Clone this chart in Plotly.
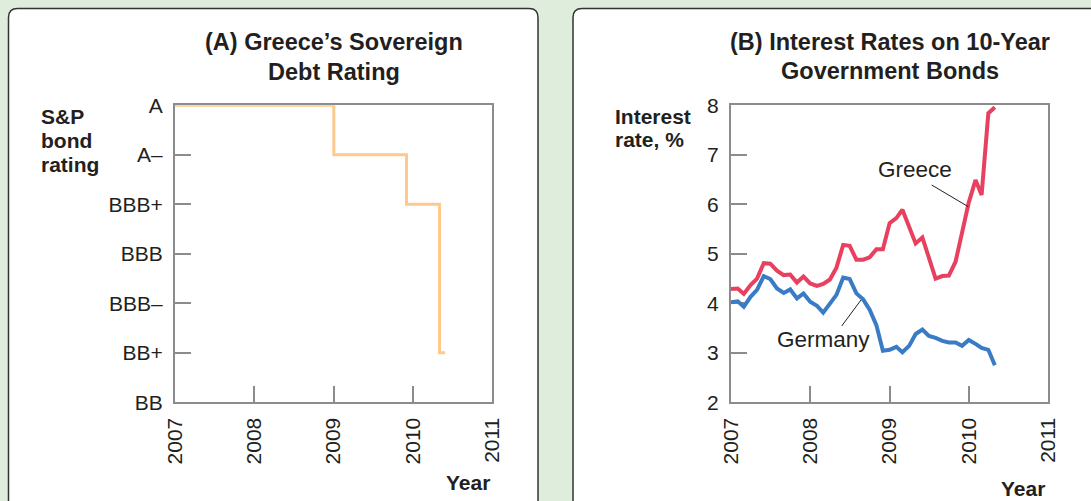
import pandas as pd
import plotly.graph_objects as go

# ---- data -------------------------------------------------------------
rating_labels = ["BB", "BB+", "BBB–", "BBB", "BBB+", "A–", "A"]
rating_dates = ["2007-01-01", "2009-01-02", "2009-12-03", "2010-05-04", "2010-05-30"]
rating_levels = ["A", "A–", "BBB+", "BB+", "BB+"]

bond_months = pd.date_range("2007-01-01", "2010-05-01", freq="MS")
greece_rate = [4.29, 4.30, 4.19, 4.37, 4.50, 4.81, 4.80, 4.66, 4.57, 4.58, 4.42, 4.54,
               4.40, 4.35, 4.39, 4.48, 4.72, 5.18, 5.16, 4.88, 4.88, 4.93, 5.09, 5.09,
               5.62, 5.72, 5.89, 5.52, 5.21, 5.33, 4.91, 4.50, 4.55, 4.56, 4.84, 5.45,
               6.04, 6.49, 6.19, 7.84, 7.96]
germany_rate = [4.02, 4.04, 3.93, 4.13, 4.27, 4.55, 4.49, 4.30, 4.21, 4.28, 4.10, 4.20,
                4.03, 3.95, 3.81, 4.01, 4.17, 4.52, 4.49, 4.20, 4.08, 3.87, 3.56, 3.04,
                3.06, 3.12, 3.01, 3.14, 3.38, 3.47, 3.34, 3.30, 3.24, 3.21, 3.21, 3.14,
                3.26, 3.18, 3.10, 3.06, 2.75]

year_ticks = ["2007", "2008", "2009", "2010", "2011"]
rate_ticks = [2, 3, 4, 5, 6, 7, 8]

# ---- layout helpers (pixel -> paper) ---------------------------------
W, H = 1091, 501


def px(x):
    return x / W


def py(y):
    return 1 - y / H


FONT = "Liberation Sans, Arial, Helvetica, sans-serif"
TXT = "#231f20"
AXIS = "#8c8c8c"
BG = "#dfeedc"
GREECE = "#e8405f"
GERMANY = "#3a7bc6"
RATING = "#fdc98c"

fig = go.Figure()

level_index = [rating_labels.index(r) for r in rating_levels]
fig.add_trace(go.Scatter(
    x=rating_dates, y=level_index, mode="lines", line_shape="hv",
    line=dict(color=RATING, width=3), cliponaxis=False,
    xaxis="x", yaxis="y", showlegend=False, hoverinfo="skip"))

fig.add_trace(go.Scatter(
    x=bond_months, y=greece_rate, mode="lines",
    line=dict(color=GREECE, width=4), cliponaxis=False,
    xaxis="x2", yaxis="y2", showlegend=False, hoverinfo="skip"))
fig.add_trace(go.Scatter(
    x=bond_months, y=germany_rate, mode="lines",
    line=dict(color=GERMANY, width=4), cliponaxis=False,
    xaxis="x2", yaxis="y2", showlegend=False, hoverinfo="skip"))

x_common = dict(
    type="date", range=["2007-01-01", "2011-01-01"],
    tickvals=[f"{y}-01-01" for y in year_ticks], ticktext=year_ticks,
    tickangle=-90, ticks="inside", ticklen=16, tickwidth=2, tickcolor=AXIS,
    showline=True, linecolor=AXIS, linewidth=2, mirror=True,
    showgrid=False, zeroline=False, layer="below traces", automargin=False,
    tickfont=dict(family=FONT, size=21, color=TXT), ticklabelstandoff=5,
    fixedrange=True)
y_common = dict(
    ticks="inside", ticklen=16, tickwidth=2, tickcolor=AXIS,
    showline=True, linecolor=AXIS, linewidth=2, mirror=True,
    showgrid=False, zeroline=False, layer="below traces", automargin=False,
    tickfont=dict(family=FONT, size=21, color=TXT), ticklabelstandoff=6,
    fixedrange=True)

fig.update_layout(
    template="none",
    width=W, height=H, margin=dict(l=0, r=0, t=0, b=0, pad=0, autoexpand=False),
    paper_bgcolor=BG, plot_bgcolor="white", hovermode=False,
    xaxis=dict(domain=[px(175), px(492)], anchor="y", **x_common),
    yaxis=dict(domain=[py(402.3), py(105.3)], anchor="x", range=[0, 6],
               tickvals=list(range(len(rating_labels))), ticktext=rating_labels,
               **y_common),
    xaxis2=dict(domain=[px(731), px(1048)], anchor="y2", **x_common),
    yaxis2=dict(domain=[py(402.3), py(105.3)], anchor="x2", range=[2, 8],
                tickvals=rate_ticks, ticktext=[str(v) for v in rate_ticks],
                **y_common),
)


def rounded_box(x0, y0, x1, y1, r):
    pts = [
        ("M", (x0 + r, y0)), ("L", (x1 - r, y0)),
        ("Q", (x1, y0), (x1, y0 + r)), ("L", (x1, y1 - r)),
        ("Q", (x1, y1), (x1 - r, y1)), ("L", (x0 + r, y1)),
        ("Q", (x0, y1), (x0, y1 - r)), ("L", (x0, y0 + r)),
        ("Q", (x0, y0), (x0 + r, y0)),
    ]
    parts = []
    for cmd, *coords in pts:
        parts.append(cmd + " " + " ".join(f"{px(a):.5f},{py(b):.5f}" for a, b in coords))
    return " ".join(parts) + " Z"


for box in [(8.5, 8.5, 538, 530), (573, 8.5, 1120, 530)]:
    fig.add_shape(type="path", path=rounded_box(*box, 9), xref="paper", yref="paper",
                  fillcolor="white", line=dict(color="#333333", width=1.5), layer="below")

# leader lines for the series labels
for (ax0, ay0, ax1, ay1) in [(931.7, 185, 968.3, 206.7), (841.7, 326, 861, 300)]:
    fig.add_shape(type="line", xref="paper", yref="paper",
                  x0=px(ax0), y0=py(ay0), x1=px(ax1), y1=py(ay1),
                  line=dict(color="#231f20", width=1))


def label(text, x, y, size, bold=False, xanchor="center"):
    fig.add_annotation(
        text=f"<b>{text}</b>" if bold else text, x=px(x), y=py(y),
        xref="paper", yref="paper", xanchor=xanchor, yanchor="middle",
        showarrow=False, font=dict(family=FONT, size=size, color=TXT))


# panel titles
label("(A) Greece’s Sovereign", 333.5, 42, 23.5, bold=True)
label("Debt Rating", 333.5, 72, 23.5, bold=True)
label("(B) Interest Rates on 10-Year", 889.5, 42, 23.5, bold=True)
label("Government Bonds", 889.5, 71, 23.5, bold=True)

# axis titles
for i, line in enumerate(["S&amp;P", "bond", "rating"]):
    label(line, 39, 117 + 23.5 * i, 21, bold=True, xanchor="left")
for i, line in enumerate(["Interest", "rate, %"]):
    label(line, 613, 116 + 23 * i, 21, bold=True, xanchor="left")
label("Year", 492, 482, 21, bold=True, xanchor="right")
label("Year", 1047, 488, 21, bold=True, xanchor="right")

# series labels
label("Greece", 914.5, 169.5, 22.5)
label("Germany", 823.7, 339, 22.5)

fig.write_html("out.html")
